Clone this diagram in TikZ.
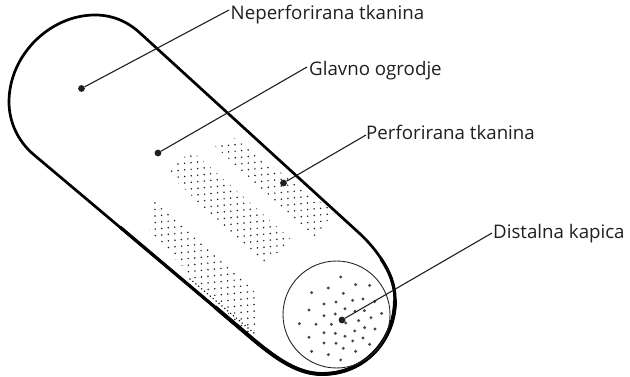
\documentclass[tikz,border=0pt]{standalone}
\usepackage{fontspec}
\setmainfont{Open Sans}
\usetikzlibrary{calc}
\tikzset{
  lab/.style={anchor=base west,inner sep=0pt,font=\fontsize{18.7}{20}\selectfont,text=black!88},
  pin/.style={circle,fill=black!88,inner sep=0pt,minimum size=6.8pt},
  leader/.style={draw=black!88,line width=1.1pt},
  outline/.style={draw=black,line width=2.7pt,line join=round},
  capdot/.style={fill=black!72},
  fabdot/.style={fill=black!88}
}
% #1 = grid origin, #2 = clip polygon
\newcommand{\fabricband}[2]{%
  \begin{scope}
    \clip #2;
    \foreach \i in {-2,...,20}{\foreach \j in {-12,...,12}{%
      \pgfmathsetmacro{\ux}{\i*6.6+\j*3.2+mod(\j+12,2)*3.3}
      \pgfmathsetmacro{\uy}{\i*5.9-\j*3.6+mod(\j+12,2)*2.95}
      \fill[fabdot] ($#1+(\ux,\uy)$) circle (0.85);
    }}
  \end{scope}}
\begin{document}
\begin{tikzpicture}[x=1pt,y=-1pt]
\useasboundingbox (0,0) rectangle (630,377);
% fabric bands
\fabricband{(222,146)}{(214,145)--(234,138)--(334,212)--(314,239)--cycle}
\fabricband{(178,164)}{(166,171)--(192,151)--(293,241)--(262,264)--cycle}
\fabricband{(155,216)}{(154,197)--(149,232)--(253,339)--(259,296)--(171,212)--cycle}
% dense stitches along the lower edge
\foreach \t in {0,...,22}{\fill[fabdot] ({190+\t*2.9},{279+\t*2.45}) circle (0.85);}
% body
\draw[outline] (140,33)
  .. controls (127,21) and (112,15) .. (95,15)
  .. controls (50,15) and (9,55) .. (9,102)
  .. controls (9,122) and (18,141) .. (33,154)
  -- (255,341)
  .. controls (277,359) and (298,374) .. (322,374)
  .. controls (365,374) and (395,340) .. (395,300)
  .. controls (395,275) and (378,250) .. (358,232)
  -- cycle;
\draw[draw=black,line width=3.2pt] (120,227) -- (255,341)
  .. controls (277,359) and (298,374) .. (322,374)
  .. controls (365,374) and (395,340) .. (395,300)
  .. controls (395,285) and (390,272) .. (381,259);
\draw[draw=black,line width=3.9pt] (215,307) -- (255,341)
  .. controls (277,359) and (298,374) .. (322,374)
  .. controls (365,374) and (395,340) .. (395,300);
% cap
\draw[draw=black!85,line width=0.9pt] (336.5,314.5) circle (53.5);
\begin{scope}[shift={(260,230)},x=0.3333pt,y=-0.3333pt]
\foreach \p in {(242,141),(287,164),(329,166),(155,188),(205,174),(250,190),(192,222),(228,216),(278,211),(309,207),(344,215),(147,240),(192,257),(226,252),(255,236),(285,244),(313,242),(365,250),(333,263),(118,281),(168,283),(214,283),(257,279),(296,272),(314,293),(345,297),(284,303),(192,308),(226,310),(255,319),(147,322),(309,324),(278,333),(192,339),(228,340),(329,343),(250,355),(287,364),(155,364),(205,374),(242,390)}
  {\fill[capdot] \p circle (1.6pt);}
\end{scope}
% labels
\node[lab] (l1) at (230.5,20) {Neperforirana tkanina};
\node[lab] (l2) at (309,76) {Glavno ogrodje};
\node[lab] (l3) at (366,140) {Perforirana tkanina};
\node[lab] (l4) at (493,239) {Distalna kapica};
\coordinate (e1) at (229,10);
\coordinate (e2) at (307,67);
\coordinate (e3) at (366,135);
\coordinate (e4) at (492,233);
% pins
\node[pin] (d1) at (81.5,88.5) {};
\node[pin] (d2) at (158,153) {};
\node[pin] (d3) at (283.5,183) {};
\node[pin] (d4) at (342,320) {};
\draw[leader] (d1) -- (e1);
\draw[leader] (d2) -- (e2);
\draw[leader] (d3) -- (e3);
\draw[leader] (d4) -- (e4);
\end{tikzpicture}
\end{document}
